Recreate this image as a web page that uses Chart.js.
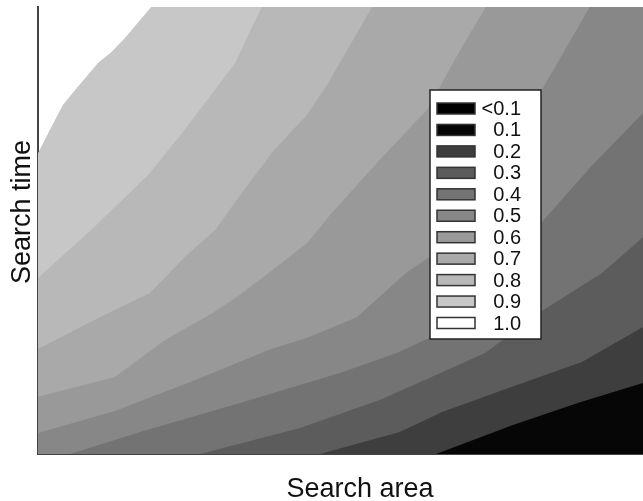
<!DOCTYPE html>
<html>
<head>
<meta charset="utf-8">
<script src="https://cdn.jsdelivr.net/npm/chart.js@4.4.1/dist/chart.umd.min.js"></script>
<style>
  html, body { margin: 0; padding: 0; background: #fff; }
  #wrap { position: relative; width: 643px; height: 501px; }
</style>
</head>
<body>
<div id="wrap"><canvas id="contour-chart"></canvas></div>
<script>
const levels = ['<0.1', '0.1', '0.2', '0.3', '0.4', '0.5', '0.6', '0.7', '0.8', '0.9', '1.0'];
const levelColors = ['#000000', '#060606', '#3e3e3e', '#5c5c5c', '#737373', '#878787',
                     '#999999', '#a9a9a9', '#b8b8b8', '#c7c7c7', '#ffffff'];

// contour lines, search area (x) against search time (y), both on 0-100
// each line is the upper edge of the band named in `contours` below
const c90X = [0, 2.1, 4.1, 6.1, 9.9, 12.1, 14.4, 18.7, 100];
const c90Y = [67.3, 72.9, 78.1, 81.4, 87.5, 89.9, 93.1, 100, 100];

const c80X = [0, 3.6, 8.8, 18.2, 23.6, 28.6, 32.7, 34.7, 37.0, 100];
const c80Y = [39.4, 43.8, 50.1, 62.4, 71.4, 80.3, 87.7, 93.7, 100, 100];

const c70X = [0, 10.2, 18.5, 24.6, 29.3, 33.4, 38.8, 44.4, 47.8, 51.6, 55.2, 100];
const c70Y = [23.5, 30.6, 36.0, 44.5, 50.1, 57.9, 67.6, 75.8, 82.6, 91.5, 100, 100];

const c60X = [0, 12.7, 21.0, 28.8, 33.4, 38.8, 44.5, 48.3, 56.5, 64.3, 69.8, 74.0, 100];
const c60Y = [12.8, 17.2, 25.5, 31.5, 35.6, 41.2, 47.2, 53.5, 65.8, 77.0, 90.4, 100, 100];

const c50X = [0, 12.7, 25.5, 38.2, 44.5, 52.7, 61.0, 64.8, 74.7, 83.0, 87.1, 91.2, 100];
const c50Y = [4.7, 9.6, 16.3, 23.3, 26.0, 30.6, 40.7, 44.1, 63.5, 80.8, 90.4, 100, 100];

const c40X = [0, 5.3, 16.9, 33.4, 49.9, 59.3, 66.8, 71.4, 76.4, 83.3, 91.2, 100];
const c40Y = [0, 0, 4.9, 11.4, 18.1, 22.6, 27.3, 31.8, 38.9, 51.9, 64.0, 76.3];

const c30X = [0, 26.8, 43.3, 56.5, 66.8, 73.9, 83.3, 93.2, 100];
const c30Y = [0, 0, 5.8, 12.1, 18.3, 22.6, 32.0, 40.5, 48.5];

const c20X = [0, 46.6, 59.8, 66.8, 77.9, 89.9, 100];
const c20Y = [0, 0, 4.9, 9.4, 14.8, 20.6, 28.4];

const c10X = [0, 65.8, 78.5, 89.6, 100];
const c10Y = [0, 0, 6.5, 11.6, 15.9];

const contours = [
    { level: '0.9', x: c90X, y: c90Y },
    { level: '0.8', x: c80X, y: c80Y },
    { level: '0.7', x: c70X, y: c70Y },
    { level: '0.6', x: c60X, y: c60Y },
    { level: '0.5', x: c50X, y: c50Y },
    { level: '0.4', x: c40X, y: c40Y },
    { level: '0.3', x: c30X, y: c30Y },
    { level: '0.2', x: c20X, y: c20Y },
    { level: '0.1', x: c10X, y: c10Y },
];

const fontFamily = '"Liberation Sans", Arial, Helvetica, sans-serif';

const toPoints = (xs, ys) => xs.map((x, i) => ({ x: x, y: ys[i] }));
const colorFor = level => levelColors[levels.indexOf(level)];

// every band is filled down to the bottom; darker bands are painted over lighter ones
const datasets = contours.map((c, i) => ({
    label: c.level,
    data: toPoints(c.x, c.y),
    fill: 'start',
    backgroundColor: colorFor(c.level),
    borderColor: 'rgba(0, 0, 0, 0)',
    borderWidth: 0,
    pointRadius: 0,
    tension: 0,
    order: contours.length - i,
}));

const axisTitles = {
    id: 'axisTitles',
    afterDraw(chart) {
        const ctx = chart.ctx;
        ctx.save();
        ctx.fillStyle = '#111';
        ctx.font = '27px ' + fontFamily;
        ctx.textAlign = 'center';
        ctx.textBaseline = 'alphabetic';
        ctx.fillText('Search area', 360, 497);
        ctx.translate(30, 212);
        ctx.rotate(-Math.PI / 2);
        ctx.fillText('Search time', 0, 0);
        ctx.restore();
    }
};

const legendBox = {
    id: 'legendBox',
    afterDraw(chart) {
        const ctx = chart.ctx;
        const left = 430, top = 90, width = 111, height = 249;
        ctx.save();
        ctx.fillStyle = '#fff';
        ctx.fillRect(left, top, width, height);
        ctx.lineWidth = 1.5;
        ctx.strokeStyle = '#222';
        ctx.strokeRect(left, top, width, height);
        ctx.font = '20px ' + fontFamily;
        ctx.textAlign = 'right';
        ctx.textBaseline = 'middle';
        levels.forEach((lvl, i) => {
            const y = top + 18.5 + i * 21.45;
            ctx.fillStyle = levelColors[i];
            ctx.fillRect(left + 7, y - 5.5, 38, 11);
            ctx.strokeStyle = '#333';
            ctx.lineWidth = 1.5;
            ctx.strokeRect(left + 7, y - 5.5, 38, 11);
            ctx.fillStyle = '#111';
            ctx.fillText(lvl, left + 91, y + 1);
        });
        ctx.restore();
    }
};

const hiddenAxis = {
    type: 'linear',
    min: 0,
    max: 100,
    ticks: { display: false },
    grid: { display: false, drawTicks: false },
    border: { display: true, color: '#444', width: 2 },
    z: 1,
};

document.addEventListener('DOMContentLoaded', () => {
    let ctx = document.getElementById('contour-chart');
    new Chart(ctx, {
        type: 'line',
        data: { datasets: datasets },
        options: {
            responsive: true,
            maintainAspectRatio: false,
            animation: false,
            layout: { padding: { left: 38, top: 7, right: 0, bottom: 47 } },
            plugins: {
                legend: { display: false },
                tooltip: { enabled: false },
            },
            scales: {
                x: hiddenAxis,
                y: Object.assign({}, hiddenAxis),
            },
        },
        plugins: [axisTitles, legendBox],
    });
});
</script>
</body>
</html>
